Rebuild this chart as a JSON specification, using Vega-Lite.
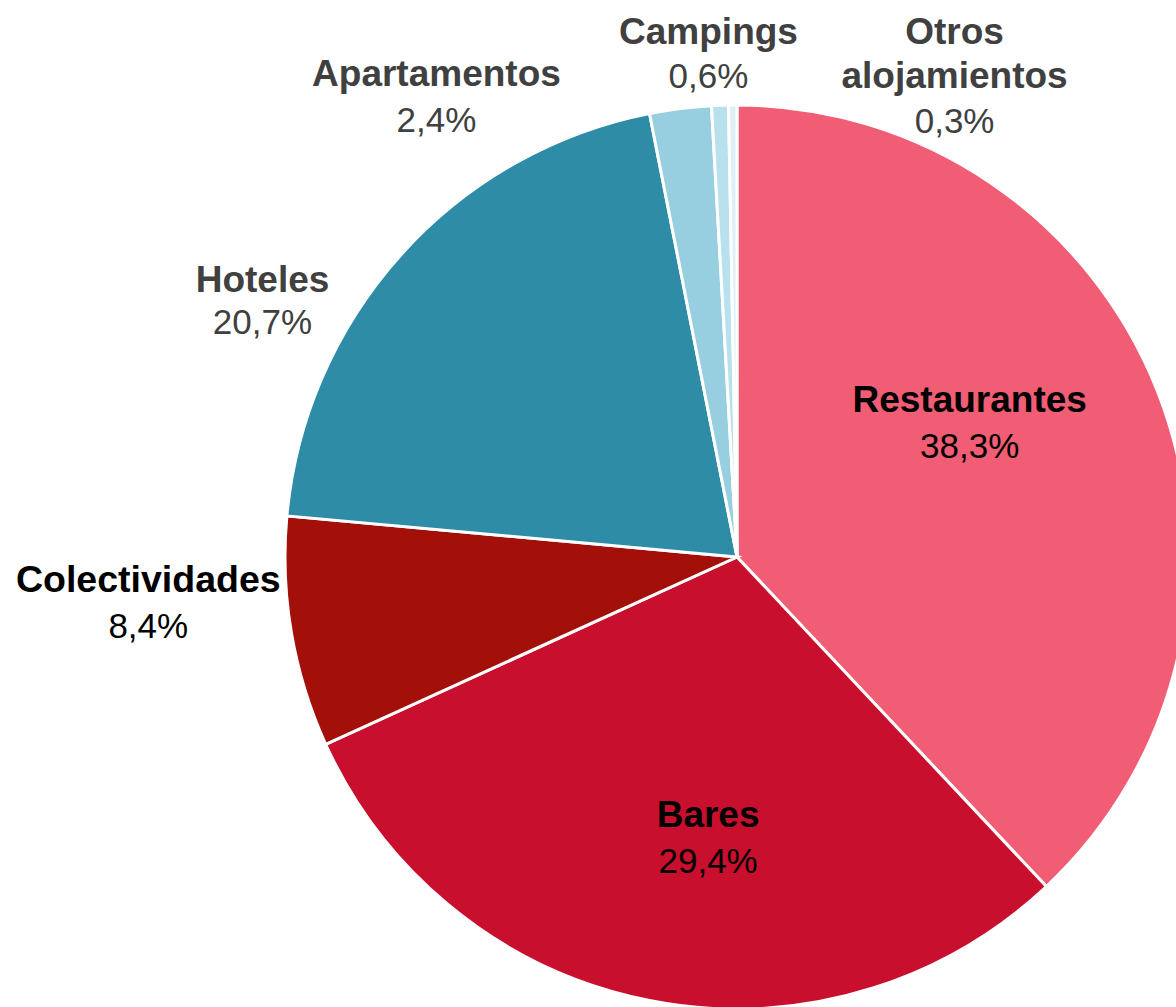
{
  "$schema": "https://vega.github.io/schema/vega-lite/v6.json",
  "autosize": "none",
  "width": 878,
  "height": 900,
  "padding": {"left": 298, "top": 107, "right": 0, "bottom": 0},
  "background": "#ffffff",
  "config": {"view": {"stroke": null}},
  "data": {"values": [
    {"n": 1, "k": "Restaurantes", "v": 38.0, "p": "38,3%"},
    {"n": 2, "k": "Bares", "v": 30.2, "p": "29,4%"},
    {"n": 3, "k": "Colectividades", "v": 8.25, "p": "8,4%"},
    {"n": 4, "k": "Hoteles", "v": 20.45, "p": "20,7%"},
    {"n": 5, "k": "Apartamentos", "v": 2.2, "p": "2,4%"},
    {"n": 6, "k": "Campings", "v": 0.6, "p": "0,6%"},
    {"n": 7, "k": "Otros alojamientos", "v": 0.3, "p": "0,3%"}
  ]},
  "encoding": {
    "theta": {"field": "v", "type": "quantitative", "stack": true},
    "order": {"field": "n", "type": "quantitative"},
    "detail": {"field": "k", "type": "nominal"}
  },
  "layer": [
    {
      "mark": {"type": "arc", "outerRadius": 452, "stroke": "#ffffff", "strokeWidth": 3},
      "encoding": {
        "color": {"field": "k", "type": "nominal", "legend": null,
          "scale": {"domain": ["Restaurantes", "Bares", "Colectividades", "Hoteles", "Apartamentos", "Campings", "Otros alojamientos"],
                    "range": ["#F05D74", "#C8102E", "#A30F09", "#2E8CA7", "#97CFE1", "#B8E1ED", "#DDF0F7"]}}
      }
    },
    {
      "mark": {"type": "text", "radius": 261, "dx": -10, "dy": -49, "font": "Liberation Sans", "fontSize": 37, "fontWeight": "bold", "fill": "#000000", "align": "center", "baseline": "alphabetic"},
      "encoding": {"text": {"condition": {"test": "datum.k === 'Restaurantes'", "field": "k", "type": "nominal"}, "value": ""}}
    },
    {
      "mark": {"type": "text", "radius": 261, "dx": -10, "dy": -3, "font": "Liberation Sans", "fontSize": 35, "fontWeight": "normal", "fill": "#000000", "align": "center", "baseline": "alphabetic"},
      "encoding": {"text": {"condition": {"test": "datum.k === 'Restaurantes'", "field": "p", "type": "nominal"}, "value": ""}}
    },
    {
      "mark": {"type": "text", "radius": 294, "dx": 28, "dy": -18, "font": "Liberation Sans", "fontSize": 37, "fontWeight": "bold", "fill": "#000000", "align": "center", "baseline": "alphabetic"},
      "encoding": {"text": {"condition": {"test": "datum.k === 'Bares'", "field": "k", "type": "nominal"}, "value": ""}}
    },
    {
      "mark": {"type": "text", "radius": 294, "dx": 28, "dy": 28, "font": "Liberation Sans", "fontSize": 35, "fontWeight": "normal", "fill": "#000000", "align": "center", "baseline": "alphabetic"},
      "encoding": {"text": {"condition": {"test": "datum.k === 'Bares'", "field": "p", "type": "nominal"}, "value": ""}}
    },
    {
      "mark": {"type": "text", "radius": 589, "dx": -8, "dy": -64, "font": "Liberation Sans", "fontSize": 37.5, "fontWeight": "bold", "fill": "#000000", "align": "center", "baseline": "alphabetic"},
      "encoding": {"text": {"condition": {"test": "datum.k === 'Colectividades'", "field": "k", "type": "nominal"}, "value": ""}}
    },
    {
      "mark": {"type": "text", "radius": 589, "dx": -8, "dy": -18, "font": "Liberation Sans", "fontSize": 35, "fontWeight": "normal", "fill": "#000000", "align": "center", "baseline": "alphabetic"},
      "encoding": {"text": {"condition": {"test": "datum.k === 'Colectividades'", "field": "p", "type": "nominal"}, "value": ""}}
    },
    {
      "mark": {"type": "text", "radius": 519, "dx": -89, "dy": 82, "font": "Liberation Sans", "fontSize": 37, "fontWeight": "bold", "fill": "#404040", "align": "center", "baseline": "alphabetic"},
      "encoding": {"text": {"condition": {"test": "datum.k === 'Hoteles'", "field": "k", "type": "nominal"}, "value": ""}}
    },
    {
      "mark": {"type": "text", "radius": 519, "dx": -89, "dy": 124, "font": "Liberation Sans", "fontSize": 35, "fontWeight": "normal", "fill": "#404040", "align": "center", "baseline": "alphabetic"},
      "encoding": {"text": {"condition": {"test": "datum.k === 'Hoteles'", "field": "p", "type": "nominal"}, "value": ""}}
    },
    {
      "mark": {"type": "text", "radius": 483, "dx": -240, "dy": 8, "font": "Liberation Sans", "fontSize": 37, "fontWeight": "bold", "fill": "#404040", "align": "center", "baseline": "alphabetic"},
      "encoding": {"text": {"condition": {"test": "datum.k === 'Apartamentos'", "field": "k", "type": "nominal"}, "value": ""}}
    },
    {
      "mark": {"type": "text", "radius": 483, "dx": -240, "dy": 54, "font": "Liberation Sans", "fontSize": 35, "fontWeight": "normal", "fill": "#404040", "align": "center", "baseline": "alphabetic"},
      "encoding": {"text": {"condition": {"test": "datum.k === 'Apartamentos'", "field": "p", "type": "nominal"}, "value": ""}}
    },
    {
      "mark": {"type": "text", "radius": 491, "dx": -10, "dy": -22, "font": "Liberation Sans", "fontSize": 37, "fontWeight": "bold", "fill": "#404040", "align": "center", "baseline": "alphabetic"},
      "encoding": {"text": {"condition": {"test": "datum.k === 'Campings'", "field": "k", "type": "nominal"}, "value": ""}}
    },
    {
      "mark": {"type": "text", "radius": 491, "dx": -10, "dy": 22, "font": "Liberation Sans", "fontSize": 35, "fontWeight": "normal", "fill": "#404040", "align": "center", "baseline": "alphabetic"},
      "encoding": {"text": {"condition": {"test": "datum.k === 'Campings'", "field": "p", "type": "nominal"}, "value": ""}}
    },
    {
      "mark": {"type": "text", "radius": 466, "dx": 222, "dy": -47, "lineBreak": " ", "lineHeight": 44, "font": "Liberation Sans", "fontSize": 37, "fontWeight": "bold", "fill": "#404040", "align": "center", "baseline": "alphabetic"},
      "encoding": {"text": {"condition": {"test": "datum.k === 'Otros alojamientos'", "field": "k", "type": "nominal"}, "value": ""}}
    },
    {
      "mark": {"type": "text", "radius": 466, "dx": 222, "dy": 42, "font": "Liberation Sans", "fontSize": 35, "fontWeight": "normal", "fill": "#404040", "align": "center", "baseline": "alphabetic"},
      "encoding": {"text": {"condition": {"test": "datum.k === 'Otros alojamientos'", "field": "p", "type": "nominal"}, "value": ""}}
    }
  ]
}
